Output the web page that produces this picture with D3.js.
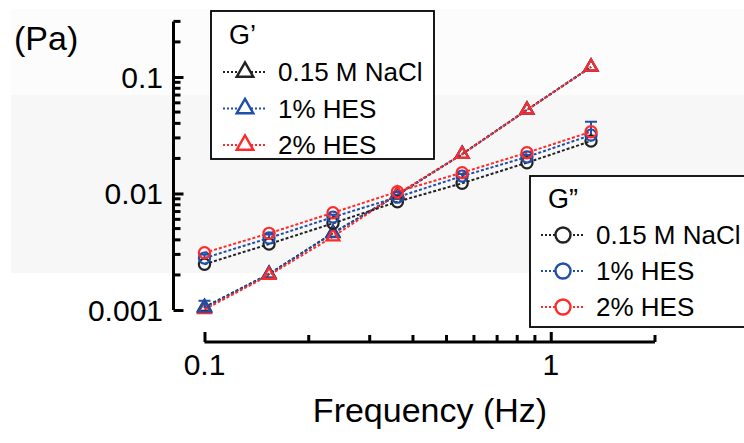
<!DOCTYPE html>
<html>
<head>
<meta charset="utf-8">
<script src="https://cdn.jsdelivr.net/npm/d3@7"></script>
<style>
  html, body { margin: 0; padding: 0; background: #fff; }
  svg { display: block; font-family: "Liberation Sans", Arial, Helvetica, sans-serif; }
</style>
</head>
<body>
<svg id="chart" width="744" height="443"></svg>
<script>
// Oscillatory sweep: storage (G') and loss (G'') moduli vs frequency
const frequencies = [0.1, 0.1536, 0.235, 0.3607, 0.5547, 0.8535, 1.307];

const seriesNames = ["0.15 M NaCl", "1% HES", "2% HES"];
const seriesColors = ["#222222", "#1f4fa8", "#ff2b2b"];

// G' (Pa)
const gPrimeNaCl  = [0.00106, 0.00204, 0.00458, 0.0097, 0.0218, 0.0522, 0.122];
const gPrimeHES1  = [0.00104, 0.00203, 0.00455, 0.0098, 0.0218, 0.0522, 0.122];
const gPrimeHES2  = [0.00101, 0.00199, 0.00426, 0.0099, 0.0217, 0.0521, 0.122];

// G'' (Pa)
const gDoubleNaCl = [0.00247, 0.00368, 0.00555, 0.0085, 0.01224, 0.01838, 0.0282];
const gDoubleHES1 = [0.00279, 0.00415, 0.00627, 0.0093, 0.0141, 0.0206, 0.0317];
const gDoubleHES2 = [0.0031, 0.00455, 0.00684, 0.01036, 0.0151, 0.0224, 0.0339];

// error bars (SD) for the 1% HES series
const gPrimeHES1Err  = [0.00016, 0, 0, 0, 0, 0, 0];
const gDoubleHES1Err = [0.0002, 0.0003, 0.0003, 0.0004, 0.0006, 0.0008, 0.0096];

const xTickValues = [0.1, 1];
const yTickValues = [0.001, 0.01, 0.1];
const yTickLabels = ["0.001", "0.01", "0.1"];
const xTickLabels = ["0.1", "1"];

const svg = d3.select("#chart");

// faint page tint bands
svg.append("rect").attr("x", 11).attr("y", 9).attr("width", 733).attr("height", 86).attr("fill", "#fcfcfc");
svg.append("rect").attr("x", 11).attr("y", 95).attr("width", 733).attr("height", 178).attr("fill", "#f7f7f7");

const x = d3.scaleLog().domain([0.1, 2]).range([204.5, 655]);
const y = d3.scaleLog().domain([0.001, 0.3]).range([310, 21.4]);

// ---- axes ----
const axisColor = "#000";
const yAxisX = 173.5;
const xAxisY = 342;

// y axis
const yMinor = [];
[0.001, 0.01, 0.1].forEach(d => { for (let k = 2; k <= 9; k++) { const v = d * k; if (v <= 0.3 + 1e-9) yMinor.push(v); } });
const yAx = d3.axisRight(y).tickValues(yTickValues).tickSize(10).tickFormat("");
const gy = svg.append("g").attr("transform", `translate(${yAxisX},0)`).call(yAx);
gy.select(".domain").attr("d", `M0,${y(0.001)}V${y(0.3)}`);
gy.selectAll("line").attr("stroke-width", 3);
gy.selectAll(".domain").attr("stroke-width", 3).attr("stroke", axisColor);
gy.selectAll(".tick line").attr("stroke", axisColor);
gy.selectAll(".minor").data(yMinor).enter().append("line")
  .attr("x1", 0).attr("x2", 7).attr("y1", d => y(d)).attr("y2", d => y(d))
  .attr("stroke", axisColor).attr("stroke-width", 3);

svg.selectAll(".ylab").data(yTickValues).enter().append("text")
  .attr("x", 163).attr("y", d => y(d)).attr("dy", "0.36em")
  .attr("text-anchor", "end").attr("font-size", 30).attr("fill", "#000")
  .text((d, i) => yTickLabels[i]);

// x axis
const xMinor = [];
for (let k = 2; k <= 9; k++) xMinor.push(0.1 * k);
xMinor.push(2);
const xAx = d3.axisTop(x).tickValues(xTickValues).tickSize(10).tickFormat("");
const gx = svg.append("g").attr("transform", `translate(0,${xAxisY})`).call(xAx);
gx.select(".domain").attr("d", `M${x(0.1)},0H${x(2)}`).attr("stroke-width", 3).attr("stroke", axisColor);
gx.selectAll(".tick line").attr("stroke", axisColor).attr("stroke-width", 3);
gx.selectAll(".minor").data(xMinor).enter().append("line")
  .attr("y1", 0).attr("y2", -7).attr("x1", d => x(d)).attr("x2", d => x(d))
  .attr("stroke", axisColor).attr("stroke-width", 3);

svg.selectAll(".xlab").data(xTickValues).enter().append("text")
  .attr("x", d => x(d)).attr("y", 375)
  .attr("text-anchor", "middle").attr("font-size", 30).attr("fill", "#000")
  .text((d, i) => xTickLabels[i]);

// axis titles
svg.append("text").attr("x", 430).attr("y", 422).attr("text-anchor", "middle")
  .attr("font-size", 34).attr("fill", "#000").text("Frequency (Hz)");
svg.append("text").attr("x", 14).attr("y", 50)
  .attr("font-size", 34).attr("fill", "#000").text("(Pa)");

// ---- data ----
const line = d3.line().x((d, i) => x(frequencies[i])).y(d => y(d));
const triSym = d3.symbol().type(d3.symbolTriangle).size(72);
const triLegend = d3.symbol().type(d3.symbolTriangle).size(120);

function drawErr(values, errs, color) {
  const g = svg.append("g");
  values.forEach((v, i) => {
    if (!errs[i]) return;
    const cx = x(frequencies[i]);
    const top = y(v + errs[i]);
    g.append("line").attr("x1", cx).attr("x2", cx).attr("y1", y(v)).attr("y2", top)
      .attr("stroke", color).attr("stroke-width", 2);
    g.append("line").attr("x1", cx - 6).attr("x2", cx + 6).attr("y1", top).attr("y2", top)
      .attr("stroke", color).attr("stroke-width", 2);
  });
}

function drawLine(values, color) {
  svg.append("path").datum(values).attr("d", line)
    .attr("fill", "none").attr("stroke", color).attr("stroke-width", 2)
    .attr("stroke-dasharray", "3,2");
}

function drawMarks(values, color, shape) {
  const g = svg.append("g");
  values.forEach((v, i) => {
    if (shape === "tri") {
      g.append("path").attr("d", triSym())
        .attr("transform", `translate(${x(frequencies[i])},${y(v)})`)
        .attr("fill", "none").attr("stroke", color).attr("stroke-width", 2.2);
    } else {
      g.append("circle").attr("cx", x(frequencies[i])).attr("cy", y(v)).attr("r", 5.6)
        .attr("fill", "none").attr("stroke", color).attr("stroke-width", 2.2);
    }
  });
}

const gPrime = [gPrimeNaCl, gPrimeHES1, gPrimeHES2];
const gDouble = [gDoubleNaCl, gDoubleHES1, gDoubleHES2];

gPrime.forEach((s, i) => drawLine(s, seriesColors[i]));
gPrime.forEach((s, i) => drawMarks(s, seriesColors[i], "tri"));
// 1% HES G' error bar, with its marker redrawn above the overlapping series
drawErr(gPrimeHES1, gPrimeHES1Err, seriesColors[1]);
drawMarks(gPrimeHES1.slice(0, 1), seriesColors[1], "tri");
gDouble.forEach((s, i) => drawLine(s, seriesColors[i]));
drawErr(gDoubleHES1, gDoubleHES1Err, seriesColors[1]);
gDouble.forEach((s, i) => drawMarks(s, seriesColors[i], "circ"));

// ---- legends ----
function legend(x0, y0, w, h, title, titleX, titleY, rows, rowX, rowY0, rowStep, shape) {
  const g = svg.append("g");
  g.append("rect").attr("x", x0).attr("y", y0).attr("width", w).attr("height", h)
    .attr("fill", "#fff").attr("stroke", "#000").attr("stroke-width", 1.8);
  g.append("text").attr("x", titleX).attr("y", titleY).attr("font-size", 27).attr("fill", "#000").text(title);
  rows.forEach((name, i) => {
    const cy = rowY0 + i * rowStep;
    g.append("line").attr("x1", rowX - 22).attr("x2", rowX + 21).attr("y1", cy).attr("y2", cy)
      .attr("stroke", seriesColors[i]).attr("stroke-width", 2.2).attr("stroke-dasharray", "2,2");
    if (shape === "tri") {
      g.append("path").attr("d", triLegend()).attr("transform", `translate(${rowX},${cy})`)
        .attr("fill", "#fff").attr("stroke", seriesColors[i]).attr("stroke-width", 2.4);
    } else {
      g.append("circle").attr("cx", rowX).attr("cy", cy).attr("r", 7.5)
        .attr("fill", "#fff").attr("stroke", seriesColors[i]).attr("stroke-width", 2.4);
    }
    g.append("text").attr("x", rowX + 33).attr("y", cy).attr("dy", "0.36em")
      .attr("font-size", 26).attr("fill", "#000").text(name);
  });
}

legend(211, 11, 223, 148, "G\u2019", 229, 44, seriesNames, 245, 72, 36.5, "tri");
legend(530, 176, 230, 151, "G\u201D", 548, 208, seriesNames, 563, 235, 36, "circ");
</script>
</body>
</html>
